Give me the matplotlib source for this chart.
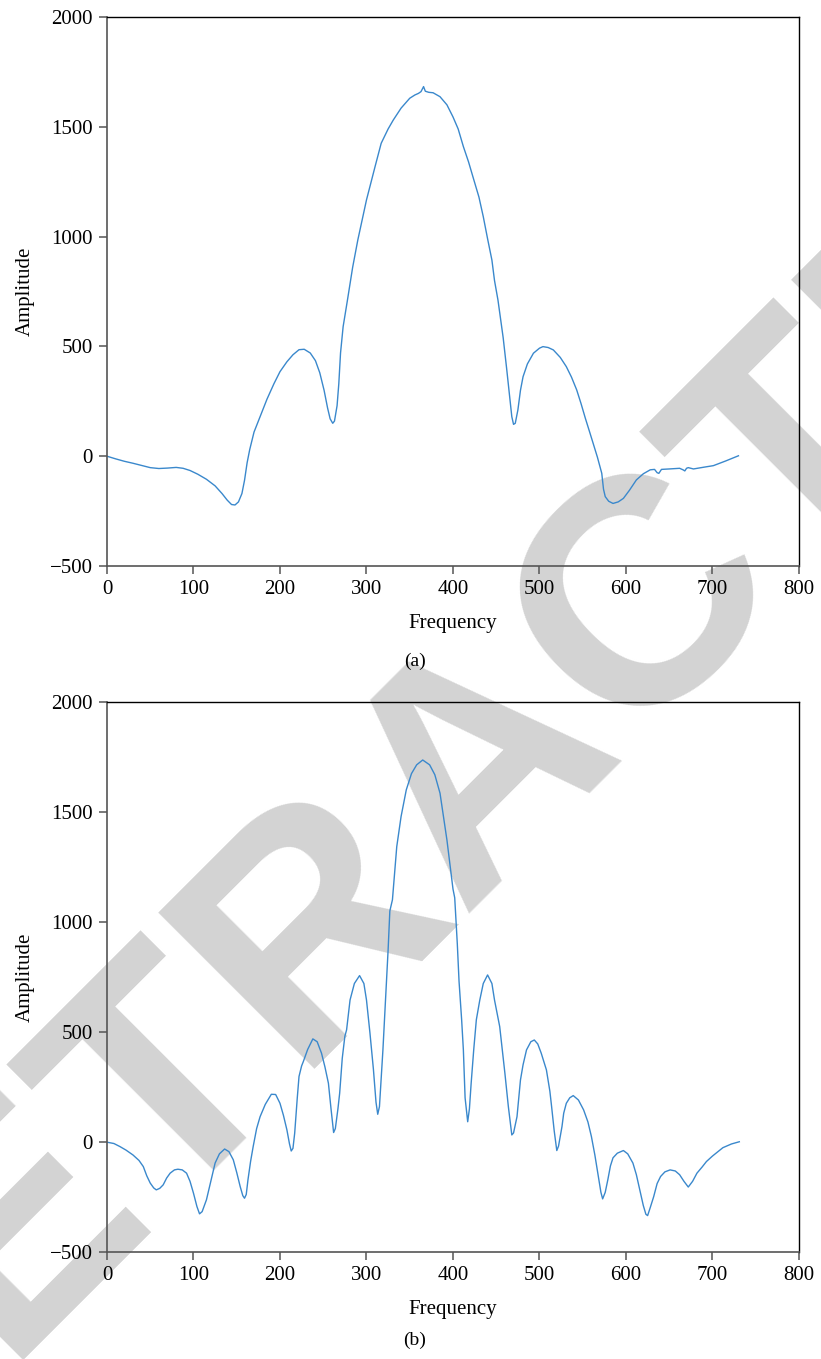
import matplotlib
matplotlib.use("Agg")
import matplotlib.pyplot as plt

# panel (a), values
freq_a = [0, 10, 20, 30, 40, 50, 60, 70, 80, 88, 96, 105, 115, 125, 133, 139, 144,
          148, 152, 156, 159, 162, 165, 170, 177, 185, 193, 200, 208, 215, 222, 228,
          235, 241, 246, 251, 255, 258, 261, 263, 266, 268, 270, 273, 278, 284, 290,
          300, 310, 317, 325, 331, 340, 350, 356, 360, 363, 366, 368, 372, 377, 385,
          393, 400, 406, 412, 418, 423, 430, 435, 440, 445, 448, 452, 458, 462, 465,
          468, 470, 472, 475, 478, 481, 486, 493, 500, 504, 510, 516, 524, 531, 537,
          543, 548, 553, 558, 562, 567, 572, 574, 576, 580, 585, 591, 597, 604, 612,
          620, 628, 633, 636, 638, 641, 650, 662, 666, 668, 670, 672, 678, 690, 701,
          715, 730]
amp_a = [0, -12, -23, -32, -42, -52, -56, -54, -51, -55, -65, -82, -105, -135, -170,
         -200, -220, -222, -208, -170, -110, -30, 30, 110, 180, 260, 330, 385, 430,
         462, 485, 487, 470, 435, 380, 300, 220, 170, 150, 160, 230, 330, 470, 590,
         711, 860, 985, 1167, 1320, 1425, 1490, 1531, 1585, 1630, 1645, 1652, 1660,
         1683, 1662, 1657, 1655, 1637, 1600, 1545, 1490, 1410, 1340, 1273, 1180, 1091,
         990, 893, 800, 711, 540, 400, 290, 180, 145, 150, 210, 300, 362, 420, 469,
         492, 499, 495, 484, 450, 408, 360, 302, 240, 173, 110, 59, -5, -78, -150,
         -184, -205, -215, -208, -192, -155, -108, -80, -62, -60, -75, -78, -60, -58,
         -55, -62, -67, -55, -52, -58, -50, -43, -22, 2]

# panel (b)
freq_b = [0, 8, 15, 22, 30, 37, 42, 46, 50, 54, 57, 61, 65, 69, 73, 78, 82, 87, 92,
          96, 100, 104, 107, 110, 115, 120, 125, 130, 136, 141, 146, 150, 154, 157,
          159, 161, 163, 166, 169, 173, 177, 183, 190, 195, 200, 204, 208, 211, 213,
          215, 217, 220, 222, 225, 227, 232, 238, 243, 248, 252, 256, 259, 262, 264,
          267, 269, 272, 275, 277, 281, 286, 292, 297, 300, 304, 308, 311, 313, 315,
          319, 322, 325, 327, 330, 335, 340, 346, 352, 358, 365, 373, 379, 385, 393,
          400, 402, 405, 407, 410, 412, 414, 417, 419, 421, 424, 427, 431, 435, 440,
          445, 448, 454, 460, 464, 468, 470, 474, 476, 478, 481, 485, 490, 494, 498,
          502, 508, 512, 514, 517, 520, 522, 526, 528, 531, 535, 539, 545, 551, 556,
          560, 564, 568, 571, 573, 576, 579, 582, 585, 590, 597, 602, 608, 612, 616,
          620, 623, 625, 628, 632, 636, 640, 645, 651, 657, 662, 667, 672, 677, 682,
          688, 693, 700, 712, 722, 731]
amp_b = [-2, -8, -22, -38, -60, -85, -113, -155, -188, -210, -219, -212, -196, -165,
         -143, -128, -125, -128, -143, -180, -234, -295, -328, -318, -264, -180, -97,
         -55, -33, -45, -82, -140, -204, -245, -257, -240, -173, -90, -22, 60, 114,
         170, 216, 215, 175, 120, 54, -10, -42, -30, 39, 200, 297, 345, 365, 420, 468,
         455, 403, 340, 266, 150, 42, 60, 150, 221, 380, 480, 509, 645, 720, 756, 720,
         645, 495, 330, 180, 125, 160, 418, 645, 873, 1050, 1101, 1343, 1480, 1601,
         1675, 1715, 1737, 1715, 1670, 1586, 1373, 1150, 1110, 900, 730, 555, 418, 200,
         91, 150, 266, 420, 555, 645, 720, 759, 720, 645, 524, 312, 160, 31, 40, 114,
         200, 281, 350, 418, 455, 463, 445, 403, 327, 230, 160, 50, -40, -20, 69, 130,
         175, 200, 210, 190, 145, 90, 24, -60, -158, -230, -260, -230, -173, -110, -73,
         -52, -40, -55, -97, -150, -219, -290, -330, -336, -300, -250, -190, -158, -137,
         -128, -133, -150, -180, -206, -180, -143, -115, -90, -65, -27, -10, 0]

x_ticks = [0, 100, 200, 300, 400, 500, 600, 700, 800]
y_ticks = [-500, 0, 500, 1000, 1500, 2000]

plt.rcParams['font.family'] = ['Liberation Serif', 'DejaVu Serif']
plt.rcParams['font.size'] = 15

fig = plt.figure(figsize=(8.21, 13.59), dpi=100)
fig.patch.set_facecolor('white')

# retraction watermark, drawn under the (transparent) axes
fig.text(482 / 821, 1 - 763 / 1359, "RETRACTED", family='Liberation Sans',
         weight='bold', fontsize=232, color='#d3d3d3', rotation=45,
         ha='center', va='center', rotation_mode='anchor', zorder=-5)

panels = [
    ([0.1303, 0.5835, 0.8429, 0.4040], freq_a, amp_a, "(a)", 0.5132),
    ([0.1303, 0.0790, 0.8429, 0.4043], freq_b, amp_b, "(b)", 0.0140),
]

for rect, xs, ys, tag, tag_y in panels:
    ax = fig.add_axes(rect)
    ax.patch.set_alpha(0)
    ax.plot(xs, ys, color='#3a88cc', lw=1.0)
    ax.set_xlim(0, 800)
    ax.set_ylim(-500, 2000)
    ax.set_xticks(x_ticks)
    ax.set_yticks(y_ticks)
    ax.set_xlabel("Frequency", labelpad=11)
    ax.set_ylabel("Amplitude", labelpad=11)
    for side in ['left', 'bottom']:
        ax.spines[side].set_color('#555555')
        ax.spines[side].set_linewidth(1.2)
    for side in ['top', 'right']:
        ax.spines[side].set_color('black')
        ax.spines[side].set_linewidth(1.0)
    ax.tick_params(direction='out', length=6, width=1.1, color='#555555', pad=4)
    fig.text(0.505, tag_y, tag, ha='center', va='center', fontsize=14)

plt.savefig("out.png", dpi=100)
plt.close()
